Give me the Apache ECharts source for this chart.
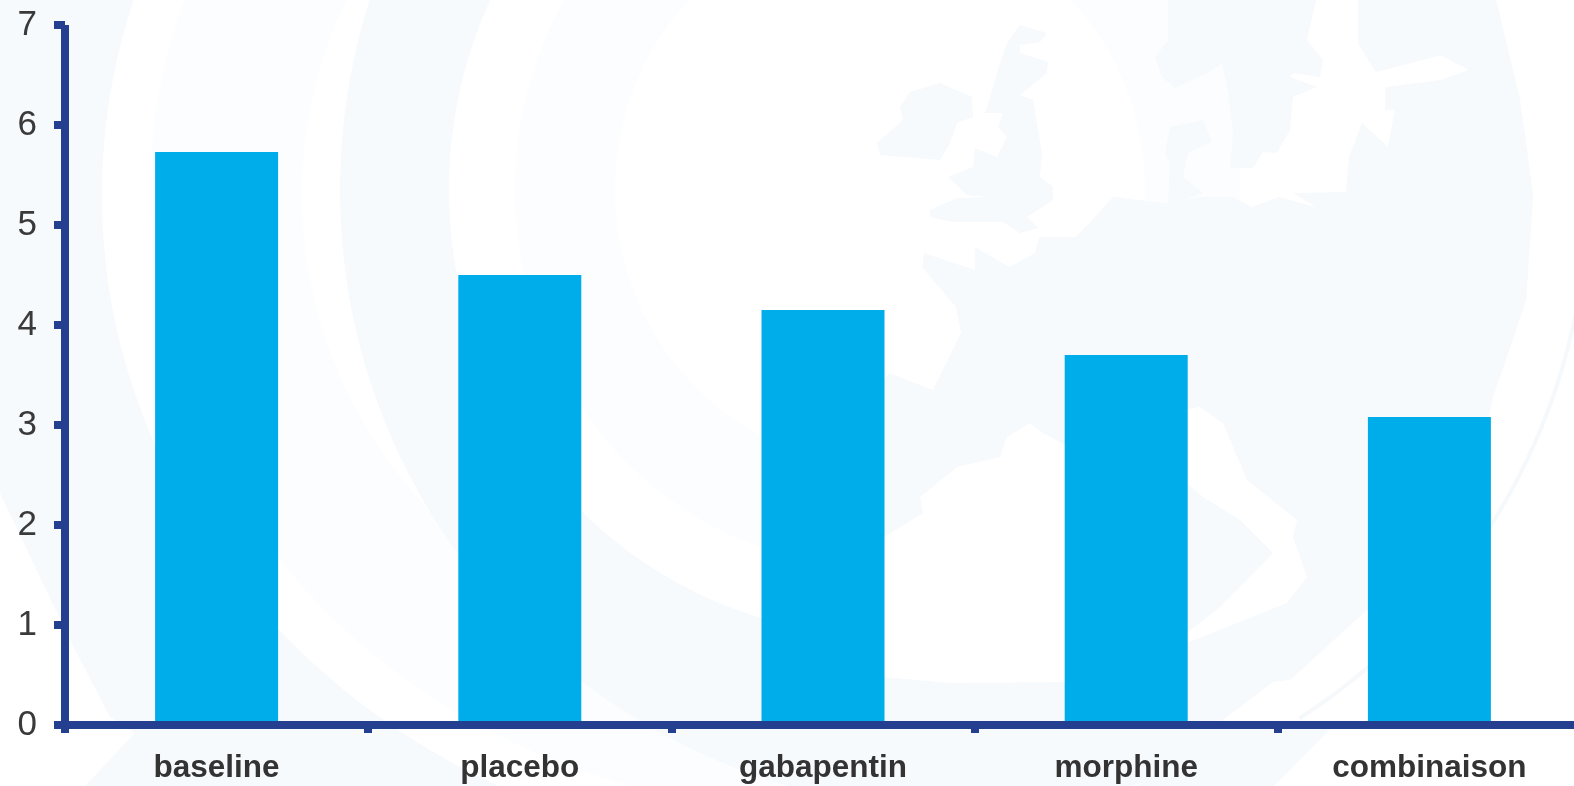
<!DOCTYPE html>
<html><head><meta charset="utf-8">
<style>html,body{margin:0;padding:0;background:#fff}#c{width:1574px;height:786px}</style>
<script src="https://cdn.jsdelivr.net/npm/echarts@6/dist/echarts.min.js"></script>
</head><body><div id="c"></div>
<script>
const categories = ['baseline','placebo','gabapentin','morphine','combinaison'];
const scores = [5.73,4.5,4.15,3.7,3.08];
const yTicks = [0,1,2,3,4,5,6,7];

// Faint globe artwork behind the plot
const tint = '#f6fafd', faint = '#fcfdfe', paper = '#ffffff';
const oval = (cx, cy, rx, ry, fill) => ({type:'ellipse', silent:true, shape:{cx, cy, rx, ry}, style:{fill}});
const shape = (points, fill) => ({type:'polygon', silent:true, shape:{points}, style:{fill}});

const ireland = [[877,143],[903,120],[900,107],[910,92],[940,83],[972,97],[973,117],[957,123],[950,143],[940,160],[903,157],[880,155]];
const britain = [[1020,25],[1047,33],[1040,42],[1020,45],[1020,53],[1048,62],[1047,73],[1020,95],[1033,100],[1042,153],[1040,177],[1053,187],[1053,200],[1027,217],[1038,228],[1020,233],[1003,222],[953,222],[930,217],[930,210],[957,198],[987,197],[967,195],[948,177],[973,167],[975,148],[997,157],[1007,137],[998,127],[1003,113],[985,113],[990,97],[1000,63],[1007,43]];
const scandinavia = [[1168,0],[1316,0],[1307,40],[1323,60],[1320,77],[1293,73],[1290,77],[1317,87],[1293,97],[1290,130],[1277,153],[1263,152],[1253,168],[1230,168],[1233,133],[1228,93],[1222,63],[1207,73],[1175,88],[1162,77],[1155,57],[1168,40]];
const jutland = [[1170,127],[1203,120],[1212,142],[1188,153],[1183,177],[1203,193],[1168,205],[1170,163],[1165,153]];
const mainland = [[889,373],[933,390],[961,333],[956,307],[922,267],[924,253],[975,270],[975,247],[1009,267],[1035,253],[1039,237],[1076,237],[1095,217],[1113,197],[1164,203],[1201,197],[1233,197],[1252,207],[1279,197],[1316,207],[1293,193],[1346,192],[1349,157],[1362,123],[1388,147],[1395,110],[1385,110],[1385,87],[1441,80],[1469,70],[1441,55],[1376,72],[1358,43],[1358,0],[1496,0],[1520,100],[1533,195],[1526,300],[1492,400],[1470,520],[1367,610],[1290,680],[1100,700],[884,700],[850,560],[850,430]];
const northSea = [[1240,0],[1358,0],[1358,43],[1376,72],[1441,55],[1469,70],[1441,80],[1395,110],[1388,147],[1358,210],[1240,210]];
const innerSea = [[884,537],[923,513],[920,497],[957,467],[1000,457],[1007,437],[1030,423],[1043,433],[1065,445],[1120,420],[1200,407],[1223,423],[1247,480],[1297,520],[1293,537],[1307,577],[1287,603],[1187,643],[1065,682],[950,683],[884,677],[860,640],[860,537]];
const peninsula = [[1183,480],[1203,497],[1240,520],[1273,553],[1250,577],[1220,607],[1183,636]];
const lowerLeftGap = [[0,493],[70,640],[110,717],[135,733],[85,786],[0,786]];
const rightGap = [[1496,0],[1574,0],[1574,786],[1274,786],[1330,729],[1228,729],[1223,720],[1367,610],[1470,520],[1492,400],[1526,300],[1533,195],[1520,100]];

const chart = echarts.init(document.getElementById('c'), null, {renderer:'canvas'});
const navy = '#243f90';
chart.setOption({
  animation:false,
  backgroundColor:tint,
  graphic:{elements:[{
    type:'group', silent:true, z:-10, zlevel:0, children:[
      shape(lowerLeftGap,paper),
      oval(817,195,715,660,paper),
      oval(817,195,667,615,faint),
      oval(817,195,515,480,paper),
      oval(960,190,620,620,tint),
      shape(rightGap,paper),
      {type:'arc',silent:true,shape:{cx:960,cy:190,r:628,startAngle:-0.1,endAngle:1.0},style:{stroke:'#f6f9fb',lineWidth:4,fill:'none'}},
      oval(880,190,431,445,paper),
      oval(880,190,365,378,faint),
      oval(880,190,265,275,paper),
      shape(northSea,paper),
      shape(mainland,tint),
      shape(innerSea,paper),
      shape(peninsula,tint),
      shape(ireland,tint), shape(britain,tint),
      shape(scandinavia,tint), shape(jutland,tint)
    ]
  }]},
  grid:{left:65,top:25,width:1516,height:700,outerBoundsMode:'none'},
  xAxis:{type:'category',data:categories,z:5,
    axisLine:{lineStyle:{color:navy,width:8,cap:'butt'},onZero:false},
    axisTick:{show:true,length:8,lineStyle:{color:navy,width:8}},
    axisLabel:{color:'#333333',fontFamily:'Liberation Sans',fontWeight:'bold',fontSize:31.5,margin:27,interval:0}},
  yAxis:{type:'value',min:0,max:7,interval:1,z:5,
    axisLine:{show:true,lineStyle:{color:navy,width:8,cap:'butt'}},
    axisTick:{show:true,length:11,lineStyle:{color:navy,width:8}},
    splitLine:{show:false},
    axisLabel:{color:'#3a3a3a',fontFamily:'Liberation Sans',fontSize:35,margin:28,formatter:v=>yTicks.includes(v)?String(v):''}},
  series:[{type:'bar',z:2,data:scores,barWidth:123,itemStyle:{color:'#00adeb'}}]
});
</script></body></html>
